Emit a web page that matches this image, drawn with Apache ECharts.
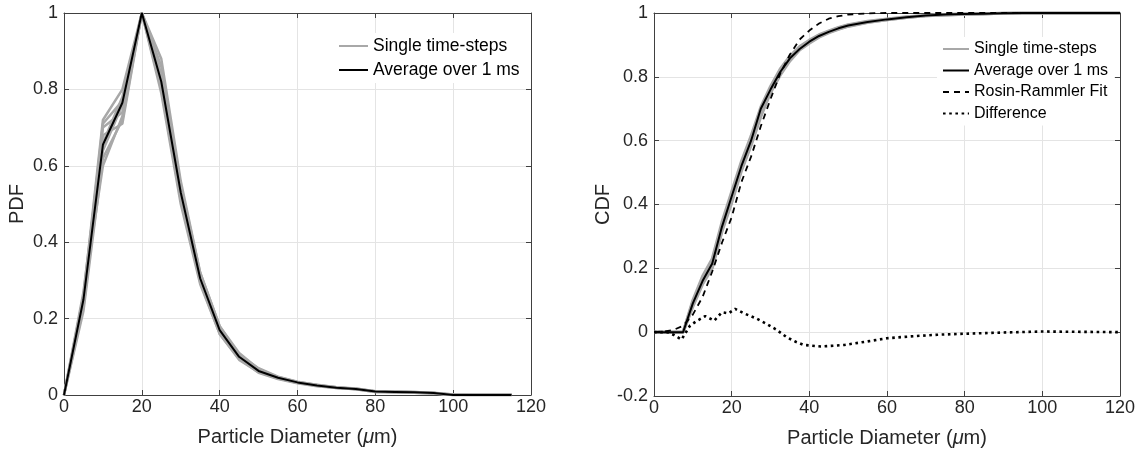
<!DOCTYPE html>
<html>
<head>
<meta charset="utf-8">
<script src="https://cdn.jsdelivr.net/npm/echarts@6/dist/echarts.min.js"></script>
<style>
html,body{margin:0;padding:0;background:#fff;}
#c{width:1140px;height:455px;}
</style>
</head>
<body>
<div id="c"></div>
<script>
// ---------- Data: PDF (left) ----------
const pdfX = [0,5,10,15,20,25,30,35,40,45,50,55,60,65,70,75,80,85,90,95,100,105,110,115];
const pdfAvg = [0,0.25,0.655,0.765,1,0.82,0.53,0.305,0.17,0.10,0.063,0.045,0.033,0.025,0.019,0.016,0.009,0.008,0.007,0.005,0,0,0,0];
const pdfStep1 = [0,0.26,0.72,0.80,1,0.86,0.55,0.32,0.18,0.105,0.07,0.048,0.035,0.026,0.02,0.017,0.01,0.009,0.008,0.006,0.001,0,0,0];
const pdfStep2 = [0,0.22,0.62,0.72,1,0.79,0.50,0.29,0.16,0.095,0.058,0.042,0.031,0.023,0.018,0.015,0.008,0.007,0.006,0.004,0,0,0,0];
const pdfStep3 = [0,0.25,0.70,0.74,1,0.84,0.54,0.31,0.175,0.10,0.066,0.046,0.034,0.027,0.02,0.016,0.01,0.008,0.007,0.005,0,0,0,0];
const pdfStep4 = [0,0.24,0.66,0.78,1,0.81,0.52,0.30,0.165,0.098,0.06,0.044,0.032,0.024,0.019,0.017,0.009,0.008,0.007,0.005,0,0,0,0];
const pdfStep5 = [0,0.27,0.68,0.71,1,0.88,0.56,0.32,0.18,0.11,0.068,0.047,0.034,0.025,0.018,0.016,0.009,0.009,0.008,0.005,0.001,0,0,0];
const pdfStep6 = [0,0.23,0.64,0.76,1,0.80,0.51,0.295,0.16,0.092,0.06,0.043,0.032,0.024,0.019,0.015,0.008,0.007,0.006,0.004,0,0,0,0];
const pdfStep7 = [0,0.25,0.71,0.77,1,0.83,0.53,0.31,0.17,0.10,0.062,0.045,0.033,0.026,0.019,0.016,0.009,0.008,0.007,0.005,0,0,0,0];
const pdfStep8 = [0,0.26,0.60,0.73,1,0.82,0.54,0.30,0.172,0.102,0.065,0.044,0.033,0.025,0.02,0.016,0.009,0.008,0.007,0.005,0,0,0,0];

// ---------- Data: CDF (right) ----------
const cdfX = [0,2.5,5,7.5,10,12.5,15,17.5,20,22.5,25,27.5,30,32.5,35,37.5,40,42.5,45,47.5,50,55,60,65,70,75,80,85,90,95,100,105,110,115,120];
const cdfAvg = [0,0,0,0,0.09,0.16,0.215,0.33,0.425,0.52,0.60,0.70,0.76,0.815,0.858,0.887,0.91,0.928,0.941,0.952,0.961,0.972,0.98,0.987,0.992,0.995,0.997,0.998,0.999,1,1,1,1,1,1];
const cdfStep1 = [0,0,0,0,0.1,0.175,0.23,0.345,0.44,0.535,0.615,0.705,0.77,0.825,0.865,0.895,0.915,0.932,0.944,0.955,0.963,0.974,0.981,0.988,0.992,0.995,0.997,0.998,0.999,1,1,1,1,1,1];
const cdfStep2 = [0,0,0,0,0.08,0.15,0.2,0.315,0.405,0.505,0.585,0.675,0.75,0.805,0.85,0.884,0.905,0.924,0.938,0.949,0.958,0.97,0.979,0.986,0.991,0.994,0.996,0.998,0.999,1,1,1,1,1,1];
const cdfStep3 = [0,0,0,0,0.095,0.165,0.225,0.335,0.43,0.525,0.605,0.695,0.765,0.82,0.86,0.892,0.912,0.93,0.942,0.953,0.962,0.973,0.98,0.987,0.992,0.995,0.997,0.998,0.999,1,1,1,1,1,1];
const cdfStep4 = [0,0,0,0,0.085,0.155,0.205,0.32,0.41,0.51,0.59,0.68,0.755,0.81,0.855,0.887,0.908,0.926,0.94,0.95,0.959,0.971,0.979,0.986,0.991,0.994,0.996,0.998,0.999,1,1,1,1,1,1];
const cdfFit = [0,0.002,0.007,0.02,0.055,0.11,0.19,0.28,0.36,0.47,0.55,0.645,0.73,0.81,0.87,0.917,0.945,0.967,0.982,0.99,0.995,0.999,1,1,1,1,1,1,1,1,1,1,1,1,1];
const diffX = [0,3.4,5,7.1,9.3,11,13.2,15.5,17.5,19.2,20.9,23,26.5,29,31.5,34.2,36.5,38.5,43,49,55,60,67,73,80,90,100,110,120];
const diffVal = [0,0,-0.008,-0.023,0.021,0.035,0.05,0.036,0.0625,0.059,0.073,0.06,0.042,0.026,0.008,-0.016,-0.03,-0.04,-0.045,-0.04,-0.029,-0.019,-0.0125,-0.008,-0.005,-0.001,0.002,0.001,0];

// ---------- Tick settings ----------
const xTicks = {min:0, max:120, interval:20};
const yPdf = {min:0, max:1, interval:0.2};
const yCdf = {min:-0.2, max:1, interval:0.2};

const FONT = "'Liberation Sans', Arial, Helvetica, sans-serif";
const AXC = '#404040';
const TXC = '#262626';
const GRIDC = '#e4e4e4';
const GRAY = '#a8a8a8';

function pairs(xs, ys){ return xs.map((x,i)=>[x, ys[i]]); }

const xName = '{n|Particle Diameter (}{i|\u03bc}{n|m)}';
const nameRich = {
  n:{fontFamily:FONT, fontSize:20, color:TXC},
  i:{fontFamily:FONT, fontSize:20, color:TXC, fontStyle:'italic'}
};

function mainX(gi){
  return {type:'value', gridIndex:gi, position:'bottom', ...xTicks,
    name:xName, nameLocation:'middle', nameGap:32, nameTextStyle:{rich:nameRich},
    axisLine:{show:true, onZero:false, lineStyle:{color:AXC, width:1}},
    axisTick:{show:true, inside:true, length:5, lineStyle:{color:AXC}},
    axisLabel:{margin:3, fontFamily:FONT, fontSize:18, color:TXC},
    splitLine:{show:true, lineStyle:{color:GRIDC, width:1}}};
}
function topX(gi){
  return {type:'value', gridIndex:gi, position:'top', ...xTicks,
    axisLine:{show:true, onZero:false, lineStyle:{color:AXC, width:1}},
    axisTick:{show:true, inside:true, length:5, lineStyle:{color:AXC}},
    axisLabel:{show:false}, splitLine:{show:false}};
}
function mainY(gi, rng, name, gap){
  return {type:'value', gridIndex:gi, position:'left', ...rng,
    name:name, nameLocation:'middle', nameGap:gap,
    nameTextStyle:{fontFamily:FONT, fontSize:20, color:TXC},
    axisLine:{show:true, onZero:false, lineStyle:{color:AXC, width:1}},
    axisTick:{show:true, inside:true, length:5, lineStyle:{color:AXC}},
    axisLabel:{margin:6, fontFamily:FONT, fontSize:18, color:TXC},
    splitLine:{show:true, lineStyle:{color:GRIDC, width:1}}};
}
function rightY(gi, rng){
  return {type:'value', gridIndex:gi, position:'right', ...rng,
    axisLine:{show:true, onZero:false, lineStyle:{color:AXC, width:1}},
    axisTick:{show:true, inside:true, length:5, lineStyle:{color:AXC}},
    axisLabel:{show:false}, splitLine:{show:false}};
}

function line(name, xi, yi, data, color, width, type, z){
  return {name:name, type:'line', xAxisIndex:xi, yAxisIndex:yi, data:data,
    symbol:'none', showSymbol:false, smooth:false, z:z||2,
    lineStyle:{color:color, width:width, type:type||'solid', cap:'butt'},
    itemStyle:{color:color}, emphasis:{disabled:true}};
}

const series = [];
[pdfStep1,pdfStep2,pdfStep3,pdfStep4,pdfStep5,pdfStep6,pdfStep7,pdfStep8].forEach(s=>{
  series.push(line('Single time-steps', 0, 0, pairs(pdfX, s), GRAY, 2.5, 'solid', 2));
});
series.push(line('Average over 1 ms', 0, 0, pairs(pdfX, pdfAvg), '#000', 2, 'solid', 3));

[cdfStep1,cdfStep2,cdfStep3,cdfStep4].forEach(s=>{
  series.push(line('Single time-steps', 2, 2, pairs(cdfX, s), GRAY, 3, 'solid', 2));
});
series.push(line('Average over 1 ms', 2, 2, pairs(cdfX, cdfAvg), '#000', 2, 'solid', 3));
series.push(line('Rosin-Rammler Fit', 2, 2, pairs(cdfX, cdfFit), '#000', 1.8, [6,5], 4));
series.push(line('Difference', 2, 2, pairs(diffX, diffVal), '#000', 2.6, [2.6,3.6], 4));

const legendCommon = {orient:'vertical', padding:[4,6,4,5], backgroundColor:'#fff',
  itemHeight:12, selectedMode:false, z:10,
  itemStyle:{opacity:0, borderWidth:0}};

const option = {
  animation:false,
  backgroundColor:'#fff',
  grid:[
    {left:64, top:13, width:467, height:382, containLabel:false},
    {left:654, top:13, width:466, height:383, containLabel:false}
  ],
  xAxis:[mainX(0), topX(0), mainX(1), topX(1)],
  yAxis:[mainY(0, yPdf, 'PDF', 37), rightY(0, yPdf), mainY(1, yCdf, 'CDF', 41), rightY(1, yCdf)],
  legend:[
    Object.assign({}, legendCommon, {data:['Single time-steps','Average over 1 ms'], left:333, top:33,
     itemWidth:29, itemGap:6,
     textStyle:{fontFamily:FONT, fontSize:17.5, color:'#000', lineHeight:18}}),
    Object.assign({}, legendCommon, {data:['Single time-steps','Average over 1 ms','Rosin-Rammler Fit','Difference'], left:937, top:37,
     itemWidth:26, itemGap:5.5,
     textStyle:{fontFamily:FONT, fontSize:16, color:'#000', lineHeight:16}})
  ],
  series:series
};

const chart = echarts.init(document.getElementById('c'), null, {renderer:'canvas'});
chart.setOption(option);
</script>
</body>
</html>
